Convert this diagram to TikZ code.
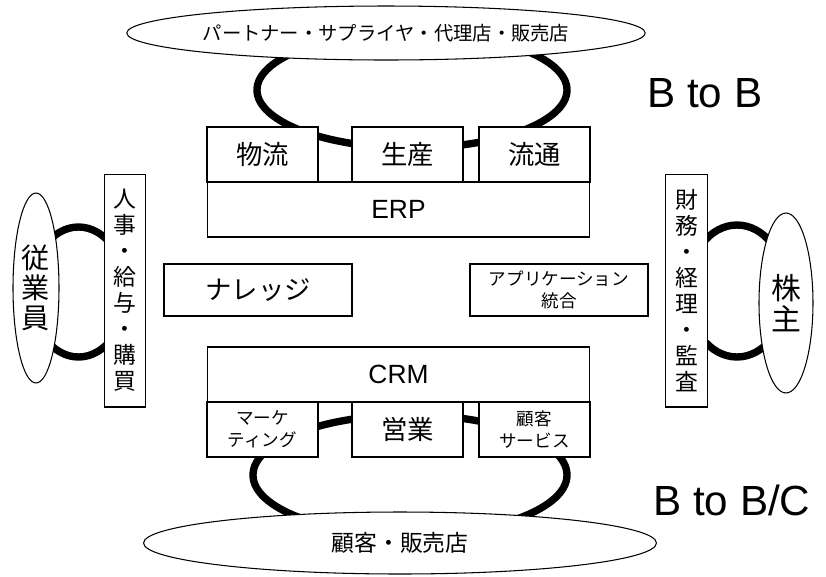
\documentclass[tikz,border=0pt]{standalone}
\usepackage{fontspec}
\setmainfont{Liberation Sans}
\newfontfamily\jp{Noto Sans CJK JP}
\usetikzlibrary{shapes.geometric}

\tikzset{
    box/.style={
        rectangle, draw=black, fill=white, line width=0.6pt, inner sep=0pt,
        minimum height=1.1cm, align=center, font=\jp\fontsize{15}{17}\selectfont
    },
    subbox/.style={box, minimum width=2.22cm},
    smallsub/.style={subbox, font=\jp\fontsize{10}{12.5}\selectfont},
    sysbox/.style={box, minimum width=7.66cm, font=\fontsize{15}{18}\selectfont},
    tallbox/.style={box, minimum width=0.83cm, minimum height=4.66cm, font=\jp\fontsize{13}{14.8}\selectfont},
    party/.style={ellipse, draw=black, fill=white, line width=0.6pt, inner sep=0pt, align=center},
    ring/.style={line width=4.2pt, color=black},
    bigtag/.style={font=\fontsize{24}{28}\selectfont, anchor=base west, inner sep=0pt},
}

\begin{document}
\begin{tikzpicture}[x=0.02cm, y=-0.02cm]
    \useasboundingbox (0, 0) rectangle (826, 576);

    % thick loops, drawn first so the boxes cover them
    \draw[ring] (412, 90) ellipse [x radius=155, y radius=58];
    \draw[ring] (410, 475) ellipse [x radius=157, y radius=60];
    \draw[ring] (78.5, 292) ellipse [x radius=48, y radius=65];
    \draw[ring] (737, 291) ellipse [x radius=50, y radius=66];

    \node[party, minimum width=10.24cm, minimum height=1.08cm, font=\jp\fontsize{11}{13}\selectfont] (partner) at (386, 33) {パートナー・サプライヤ・代理店・販売店};
    \node[bigtag] (btob) at (647, 107) {B to B};

    \node[subbox] (logi) at (262.5, 154.5) {物流};
    \node[subbox] (prod) at (407.5, 154.5) {生産};
    \node[subbox] (dist) at (534.5, 154.5) {流通};
    \node[sysbox] (erp) at (398.5, 209.5) {ERP};

    \node[party, minimum width=0.92cm, minimum height=3.8cm, font=\jp\fontsize{16}{17}\selectfont] (staff) at (36, 288) {従\\業\\員};
    \node[tallbox] (hr) at (125, 290.5) {人\\事\\・\\給\\与\\・\\購\\買};

    \node[box, minimum width=3.76cm, minimum height=1.04cm] (know) at (258, 290) {ナレッジ};
    \node[box, minimum width=3.56cm, minimum height=1.04cm, font=\jp\fontsize{10}{12.5}\selectfont] (eai) at (559, 290) {アプリケーション\\統合};

    \node[tallbox] (fin) at (686.5, 290.5) {財\\務\\・\\経\\理\\・\\監\\査};
    \node[party, minimum width=1.08cm, minimum height=3.6cm, font=\jp\fontsize{17}{17.6}\selectfont] (holder) at (786, 303) {株\\主};

    \node[sysbox] (crm) at (398.5, 374.5) {CRM};
    \node[smallsub] (mkt) at (262.5, 429.5) {マーケ\\ティング};
    \node[subbox] (sales) at (407.5, 429.5) {営業};
    \node[smallsub] (care) at (534.5, 429.5) {顧客\\サービス};

    \node[party, minimum width=10.26cm, minimum height=1.24cm, font=\jp\fontsize{13}{15}\selectfont] (cust) at (400, 543) {顧客・販売店};
    \node[bigtag] (btobc) at (653, 515) {B to B/C};
\end{tikzpicture}
\end{document}
